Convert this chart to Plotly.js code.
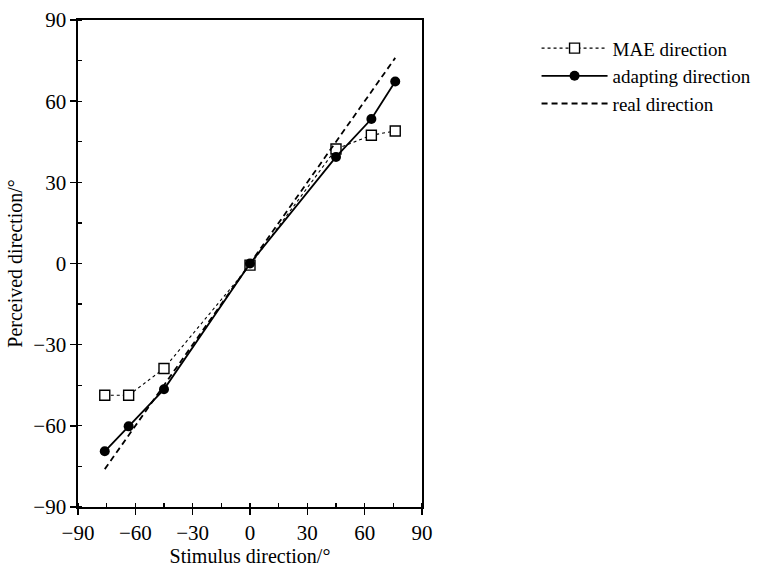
<!DOCTYPE html>
<html>
<head>
<meta charset="utf-8">
<script src="https://cdn.plot.ly/plotly-3.0.1.min.js"></script>
<style>html,body{margin:0;padding:0;background:#fff;}#chart{width:782px;height:568px;}</style>
</head>
<body>
<div id="chart"></div>
<script>
const stimulus = [-76, -63.5, -45, 0, 45, 63.5, 76];
const maeDirection = [-48.7, -48.7, -38.8, -0.6, 42.3, 47.4, 49.0];
const adaptingDirection = [-69.4, -60.2, -46.5, 0, 39.4, 53.4, 67.3];
const realX = [-76, 76];
const realDirection = [-76, 76];
const tickVals = [-90, -60, -30, 0, 30, 60, 90];
const tickText = ['\u221290', '\u221260', '\u221230', '0', '30', '60', '90'];

const font = 'Liberation Serif, Times New Roman, serif';

const traces = [
  {
    x: stimulus, y: maeDirection, name: 'MAE direction', type: 'scatter', mode: 'lines+markers',
    line: {color: '#000', width: 1.1, dash: 'dot'},
    marker: {symbol: 'square', size: 10, color: '#fff', line: {color: '#000', width: 1.4}}
  },
  {
    x: stimulus, y: adaptingDirection, name: 'adapting direction', type: 'scatter', mode: 'lines+markers',
    line: {color: '#000', width: 1.8},
    marker: {symbol: 'circle', size: 10, color: '#000'}
  },
  {
    x: realX, y: realDirection, name: 'real direction', type: 'scatter', mode: 'lines',
    line: {color: '#000', width: 1.8, dash: '6px,4px'}
  }
];

const axisCommon = {
  range: [-90, 90], tickvals: tickVals, ticktext: tickText,
  showgrid: false, zeroline: false, showline: true, linecolor: '#000', linewidth: 1.6,
  mirror: true, ticks: 'outside', ticklen: 6, tickwidth: 1.5, tickcolor: '#000',
  tickfont: {family: font, size: 21, color: '#000'},
  minor: {dtick: 15, tick0: 0, ticks: 'inside', ticklen: 4, tickwidth: 1.3, tickcolor: '#000', showgrid: false}
};

const layout = {
  width: 782, height: 568,
  margin: {l: 78, r: 360, t: 20, b: 61},
  paper_bgcolor: '#fff', plot_bgcolor: '#fff',
  font: {family: font, color: '#000'},
  showlegend: true,
  legend: {
    x: 1.333, y: 0.981, xanchor: 'left', yanchor: 'top',
    font: {family: font, size: 19, color: '#000'},
    itemwidth: 66, tracegroupgap: 0, bgcolor: 'rgba(0,0,0,0)'
  },
  xaxis: Object.assign({}, axisCommon, {
    title: {text: 'Stimulus direction/\u00b0', font: {family: font, size: 20, color: '#000'}, standoff: 5}
  }),
  yaxis: Object.assign({}, axisCommon, {
    title: {text: 'Perceived direction/\u00b0', font: {family: font, size: 20, color: '#000'}, standoff: 5}
  })
};

Plotly.newPlot('chart', traces, layout, {displayModeBar: false, staticPlot: true});
</script>
</body>
</html>
